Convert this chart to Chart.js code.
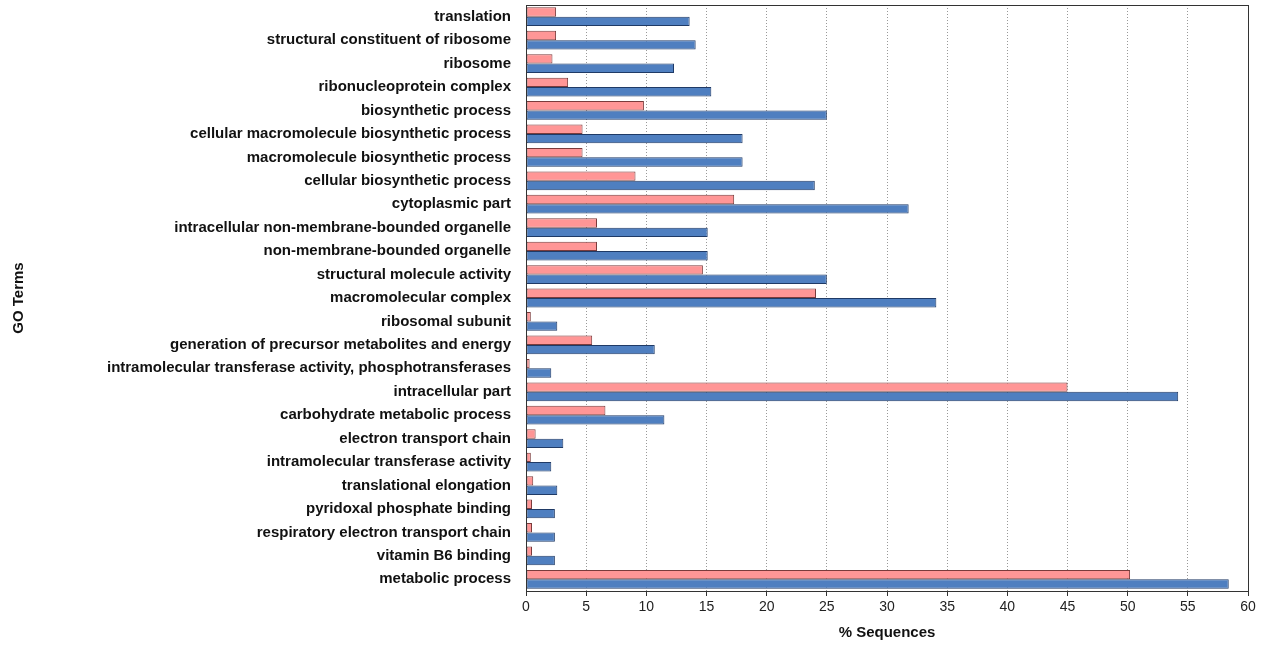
<!DOCTYPE html>
<html>
<head>
<meta charset="utf-8">
<script src="https://cdn.jsdelivr.net/npm/chart.js@4.4.1/dist/chart.umd.min.js"></script>
<style>
  html, body { margin: 0; padding: 0; background: #fff; }
  #wrap { width: 1266px; height: 645px; }
</style>
</head>
<body>
<div id="wrap"><canvas id="goChart"></canvas></div>
<script>
// GO terms, top to bottom
const goTerms = [
  "translation",
  "structural constituent of ribosome",
  "ribosome",
  "ribonucleoprotein complex",
  "biosynthetic process",
  "cellular macromolecule biosynthetic process",
  "macromolecule biosynthetic process",
  "cellular biosynthetic process",
  "cytoplasmic part",
  "intracellular non-membrane-bounded organelle",
  "non-membrane-bounded organelle",
  "structural molecule activity",
  "macromolecular complex",
  "ribosomal subunit",
  "generation of precursor metabolites and energy",
  "intramolecular transferase activity, phosphotransferases",
  "intracellular part",
  "carbohydrate metabolic process",
  "electron transport chain",
  "intramolecular transferase activity",
  "translational elongation",
  "pyridoxal phosphate binding",
  "respiratory electron transport chain",
  "vitamin B6 binding",
  "metabolic process"
];

// % sequences, pink series (upper bar)
const pinkValues = [
  2.5, 2.5, 2.2, 3.5, 9.8, 4.7, 4.7, 9.1, 17.3, 5.9,
  5.9, 14.7, 24.1, 0.4, 5.5, 0.3, 45.0, 6.6, 0.8, 0.4,
  0.6, 0.5, 0.5, 0.5, 50.2
];

// % sequences, blue series (lower bar)
const blueValues = [
  13.6, 14.1, 12.3, 15.4, 25.0, 18.0, 18.0, 24.0, 31.8, 15.1,
  15.1, 25.0, 34.1, 2.6, 10.7, 2.1, 54.2, 11.5, 3.1, 2.1,
  2.6, 2.4, 2.4, 2.4, 58.4
];

const xTicks = [0, 5, 10, 15, 20, 25, 30, 35, 40, 45, 50, 55, 60];

// frame round the plot area
const frame = {
  id: "frame",
  afterDraw(chart) {
    const { ctx, chartArea: a } = chart;
    ctx.save();
    ctx.strokeStyle = "#333";
    ctx.lineWidth = 1;
    ctx.strokeRect(a.left + 0.5, a.top + 0.5, a.right - a.left, a.bottom - a.top);
    ctx.restore();
  }
};

new Chart(document.getElementById("goChart"), {
  type: "bar",
  data: {
    labels: goTerms,
    datasets: [
      {
        data: pinkValues,
        backgroundColor: "#ff9696",
        borderColor: "#7a3b3b",
        borderWidth: 1,
        borderSkipped: false
      },
      {
        data: blueValues,
        backgroundColor: "#4f7fc0",
        borderColor: "#1f3a66",
        borderWidth: 1,
        borderSkipped: false
      }
    ]
  },
  options: {
    indexAxis: "y",
    responsive: true,
    maintainAspectRatio: false,
    animation: false,
    categoryPercentage: 0.8,
    barPercentage: 1.0,
    layout: { padding: { top: 5, right: 18, left: 0, bottom: 0 } },
    plugins: {
      legend: { display: false },
      tooltip: { enabled: false }
    },
    scales: {
      x: {
        min: 0,
        max: 60,
        afterBuildTicks: s => { s.ticks = xTicks.map(v => ({ value: v })); },
        afterFit: s => { s.height = 54; },
        grid: {
          color: "#999",
          tickColor: "#333",
          tickBorderDash: [],
          tickLength: 5
        },
        border: { color: "#333", dash: [1, 2] },
        ticks: {
          color: "#222",
          font: { family: "Liberation Sans", size: 14 },
          padding: 3,
          maxRotation: 0
        },
        title: {
          display: true,
          text: "% Sequences",
          color: "#111",
          font: { family: "Liberation Sans", size: 15, weight: "bold" },
          padding: { top: 0, bottom: 3 }
        }
      },
      y: {
        afterFit: s => {
          s.width = 526;
          s.paddingTop = 0;
          s.paddingBottom = 0;
        },
        grid: { display: false, drawTicks: false },
        border: { color: "#333" },
        ticks: {
          color: "#111",
          font: { family: "Liberation Sans", size: 15, weight: "bold" },
          padding: 15,
          autoSkip: false
        },
        title: {
          display: true,
          text: "GO Terms",
          color: "#111",
          font: { family: "Liberation Sans", size: 15, weight: "bold" },
          padding: { top: 10, bottom: 0 }
        }
      }
    }
  },
  plugins: [frame]
});
</script>
</body>
</html>
